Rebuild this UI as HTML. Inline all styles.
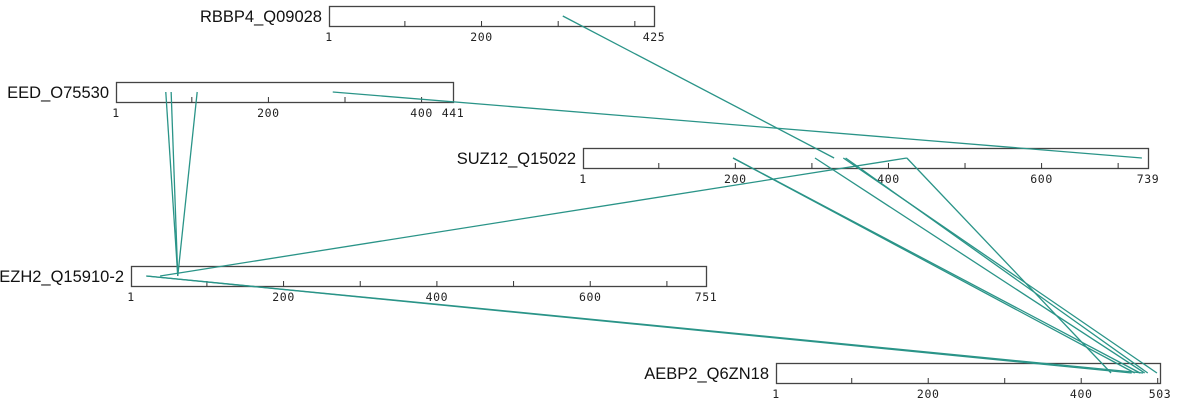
<!DOCTYPE html>
<html><head><meta charset="utf-8"><style>
body{margin:0;background:#fff}
svg{display:block}
.lbl{font-family:"Liberation Sans",sans-serif;font-size:16.5px;fill:#111}
.tk{font-family:"DejaVu Sans Mono","Liberation Mono",monospace;font-size:11.5px;letter-spacing:0.6px;fill:#222}
</style></head><body>
<svg id="chart" width="1193" height="408"></svg>
<script>
const proteins = ["RBBP4_Q09028","EED_O75530","SUZ12_Q15022","EZH2_Q15910-2","AEBP2_Q6ZN18"];
const lengths = [425,441,739,751,503];
const tickLabels = [[1,200,425],[1,200,400,441],[1,200,400,600,739],[1,200,400,600,751],[1,200,400,503]];
const linkFrom = ["RBBP4_Q09028","EED_O75530","EED_O75530","EED_O75530","EED_O75530","SUZ12_Q15022","SUZ12_Q15022","SUZ12_Q15022","SUZ12_Q15022","SUZ12_Q15022","SUZ12_Q15022","SUZ12_Q15022","EZH2_Q15910-2","EZH2_Q15910-2"];
const linkFromRes = [306,284,66,73,107,424,424,197,197,304,341,344,21,21];
const linkTo = ["SUZ12_Q15022","SUZ12_Q15022","EZH2_Q15910-2","EZH2_Q15910-2","EZH2_Q15910-2","EZH2_Q15910-2","AEBP2_Q6ZN18","AEBP2_Q6ZN18","AEBP2_Q6ZN18","AEBP2_Q6ZN18","AEBP2_Q6ZN18","AEBP2_Q6ZN18","AEBP2_Q6ZN18","AEBP2_Q6ZN18"];
const linkToRes = [329,731,62,62,62,39,439,470,477,483,499,487,466,481];

// layout (not data)
const layout = {
 "RBBP4_Q09028":{x:329,w:325,y:6},
 "EED_O75530":{x:116,w:337,y:82},
 "SUZ12_Q15022":{x:583,w:565,y:148},
 "EZH2_Q15910-2":{x:131,w:575,y:266},
 "AEBP2_Q6ZN18":{x:776,w:384,y:363}
};
const NS="http://www.w3.org/2000/svg";
const svg=document.getElementById('chart');
function mk(t,a){const e=document.createElementNS(NS,t);for(const k in a)e.setAttribute(k,a[k]);return e;}
function xOf(p,res){const L=layout[p];const len=lengths[proteins.indexOf(p)];return L.x+(res-1)/(len-1)*L.w;}
const gL=mk('g',{});
proteins.forEach((p,i)=>{
 const L=layout[p];
 const g=mk('g',{});
 
 
 const r=mk('rect',{x:L.x+0.5,y:L.y+0.5,width:L.w,height:20,fill:'#fff',stroke:'#444','stroke-width':1.3});
 
 g.appendChild(r);
 for(let t=100;t<lengths[i];t+=100){const x=xOf(p,t);
  const tk=mk('line',{x1:x,x2:x,y1:L.y+15,y2:L.y+20.5,stroke:'#333'});
  g.appendChild(tk);}
 tickLabels[i].forEach(v=>{const tx=mk('text',{x:xOf(p,v),y:L.y+35,'text-anchor':'middle',class:'tk'});tx.textContent=v;
  g.appendChild(tx);});
 const lb=mk('text',{x:L.x-7,y:L.y+16,'text-anchor':'end',class:'lbl'});lb.textContent=p;
 g.appendChild(lb);
 svg.appendChild(g);
});
svg.appendChild(gL);
linkFrom.forEach((f,i)=>{
 const t=linkTo[i];
 const ln=mk('line',{x1:xOf(f,linkFromRes[i]),y1:layout[f].y+10,x2:xOf(t,linkToRes[i]),y2:layout[t].y+10,stroke:'#2a9488','stroke-width':1.3});
 
 
 gL.appendChild(ln);
});
</script>
</body></html>
